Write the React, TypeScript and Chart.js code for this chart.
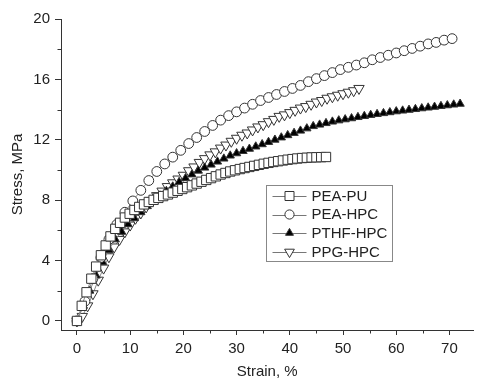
import React, { useEffect, useRef } from 'react';
import { Chart, registerables } from 'chart.js';

Chart.register(...registerables);

const seriesNames = ['PEA-PU', 'PEA-HPC', 'PTHF-HPC', 'PPG-HPC'];

const strainPEAPU = [0, 0.9, 1.8, 2.7, 3.6, 4.5, 5.4, 6.3, 7.2, 8.1, 9.0, 9.9, 10.8, 11.7, 12.6, 13.5, 14.4, 15.3, 16.2, 17.1, 18.0, 18.9, 19.8, 20.7, 21.6, 22.5, 23.4, 24.3, 25.2, 26.1, 27.0, 27.9, 28.8, 29.7, 30.6, 31.5, 32.4, 33.3, 34.2, 35.1, 36.0, 36.9, 37.8, 38.7, 39.6, 40.5, 41.4, 42.3, 43.2, 44.1, 45.0, 45.9, 46.8];
const stressPEAPU = [0, 1.0, 1.9, 2.8, 3.6, 4.35, 5.0, 5.6, 6.1, 6.5, 6.85, 7.1, 7.35, 7.55, 7.72, 7.88, 8.02, 8.15, 8.27, 8.38, 8.5, 8.62, 8.74, 8.86, 8.98, 9.1, 9.22, 9.34, 9.46, 9.58, 9.7, 9.8, 9.9, 9.98, 10.06, 10.13, 10.2, 10.27, 10.34, 10.41, 10.47, 10.53, 10.58, 10.63, 10.68, 10.72, 10.76, 10.79, 10.81, 10.83, 10.84, 10.85, 10.86];

const strainPEAHPC = [0, 1.5, 3, 4.5, 6, 7.5, 9, 10.5, 12, 13.5, 15, 16.5, 18, 19.5, 21, 22.5, 24, 25.5, 27, 28.5, 30, 31.5, 33, 34.5, 36, 37.5, 39, 40.5, 42, 43.5, 45, 46.5, 48, 49.5, 51, 52.5, 54, 55.5, 57, 58.5, 60, 61.5, 63, 64.5, 66, 67.5, 69, 70.5];
const stressPEAHPC = [0, 1.3, 2.8, 4.2, 5.4, 6.4, 7.2, 7.95, 8.65, 9.3, 9.9, 10.4, 10.85, 11.3, 11.75, 12.15, 12.55, 12.95, 13.3, 13.6, 13.85, 14.1, 14.35, 14.6, 14.8, 15.0, 15.2, 15.4, 15.6, 15.85, 16.05, 16.25, 16.45, 16.65, 16.8, 16.95, 17.1, 17.3, 17.45, 17.6, 17.75, 17.9, 18.05, 18.2, 18.35, 18.45, 18.6, 18.7];

const strainPTHFHPC = [0, 1.2, 2.4, 3.6, 4.8, 6.0, 7.2, 8.4, 9.6, 10.8, 12.0, 13.2, 14.4, 15.6, 16.8, 18.0, 19.2, 20.4, 21.6, 22.8, 24.0, 25.2, 26.4, 27.6, 28.8, 30.0, 31.2, 32.4, 33.6, 34.8, 36.0, 37.2, 38.4, 39.6, 40.8, 42.0, 43.2, 44.4, 45.6, 46.8, 48.0, 49.2, 50.4, 51.6, 52.8, 54.0, 55.2, 56.4, 57.6, 58.8, 60.0, 61.2, 62.4, 63.6, 64.8, 66.0, 67.2, 68.4, 69.6, 70.8, 72.0];
const stressPTHFHPC = [0, 1.0, 2.0, 3.0, 3.9, 4.7, 5.4, 5.9, 6.4, 6.8, 7.2, 7.6, 7.95, 8.3, 8.6, 8.9, 9.2, 9.45, 9.7, 9.95, 10.15, 10.35, 10.55, 10.75, 10.95, 11.1, 11.25, 11.4, 11.55, 11.7, 11.85, 12.0, 12.15, 12.3, 12.45, 12.6, 12.75, 12.9, 13.0, 13.1, 13.2, 13.28, 13.35, 13.42, 13.5, 13.57, 13.64, 13.7, 13.76, 13.82, 13.88, 13.93, 13.98, 14.03, 14.08, 14.13, 14.18, 14.23, 14.28, 14.33, 14.38];

const strainPPGHPC = [0, 1, 2, 3, 4, 5, 6, 7, 8, 9, 10, 11, 12, 13, 14, 15, 16, 17, 18, 19, 20, 21, 22, 23, 24, 25, 26, 27, 28, 29, 30, 31, 32, 33, 34, 35, 36, 37, 38, 39, 40, 41, 42, 43, 44, 45, 46, 47, 48, 49, 50, 51, 52, 53];
const stressPPGHPC = [0, 0.3, 1.0, 1.8, 2.7, 3.5, 4.25, 4.9, 5.4, 5.9, 6.35, 6.8, 7.15, 7.55, 7.95, 8.3, 8.6, 8.9, 9.15, 9.4, 9.65, 9.95, 10.2, 10.5, 10.75, 11.0, 11.2, 11.45, 11.65, 11.9, 12.1, 12.3, 12.45, 12.65, 12.85, 13.0, 13.2, 13.35, 13.55, 13.65, 13.8, 13.95, 14.1, 14.2, 14.35, 14.5, 14.6, 14.75, 14.85, 14.95, 15.05, 15.15, 15.25, 15.4];

const xMajorTicks = [0, 10, 20, 30, 40, 50, 60, 70];
const xMinorTicks = [5, 15, 25, 35, 45, 55, 65];
const yMajorTicks = [0, 4, 8, 12, 16, 20];
const yMinorTicks = [2, 6, 10, 14, 18];

const xTitle = 'Strain, %';
const yTitle = 'Stress, MPa';

const FONT = "'Liberation Sans', Arial, sans-serif";
const TEXT = '#222';
const AXIS = '#333';

type MarkerSpec = { style: string; radius: number; fill: string; rotation: number };

const markers: MarkerSpec[] = [
  { style: 'rect', radius: 6.6, fill: '#fff', rotation: 0 },
  { style: 'circle', radius: 4.9, fill: '#fff', rotation: 0 },
  { style: 'triangle', radius: 4.8, fill: '#000', rotation: 0 },
  { style: 'triangle', radius: 6.0, fill: '#fff', rotation: 180 },
];

function toPoints(xs: number[], ys: number[]) {
  return xs.map((x, i) => ({ x, y: ys[i] }));
}

function drawMarker(ctx: CanvasRenderingContext2D, m: MarkerSpec, x: number, y: number, r: number) {
  ctx.save();
  ctx.fillStyle = m.fill;
  ctx.strokeStyle = AXIS;
  ctx.lineWidth = 1;
  ctx.beginPath();
  if (m.style === 'rect') {
    const s = r;
    ctx.rect(x - s, y - s, 2 * s, 2 * s);
  } else if (m.style === 'circle') {
    ctx.arc(x, y, r, 0, Math.PI * 2);
  } else {
    let rad = (m.rotation * Math.PI) / 180;
    ctx.moveTo(x + Math.sin(rad) * r, y - Math.cos(rad) * r);
    rad += (2 * Math.PI) / 3;
    ctx.lineTo(x + Math.sin(rad) * r, y - Math.cos(rad) * r);
    rad += (2 * Math.PI) / 3;
    ctx.lineTo(x + Math.sin(rad) * r, y - Math.cos(rad) * r);
    ctx.closePath();
  }
  ctx.fill();
  ctx.stroke();
  ctx.restore();
}

const minorTicksPlugin = {
  id: 'minorTicks',
  afterDraw(chart: any) {
    const { ctx, scales, chartArea } = chart;
    ctx.save();
    ctx.strokeStyle = AXIS;
    ctx.lineWidth = 1;
    ctx.beginPath();
    xMinorTicks.forEach((v) => {
      const px = Math.round(scales.x.getPixelForValue(v)) + 0.5;
      ctx.moveTo(px, chartArea.bottom);
      ctx.lineTo(px, chartArea.bottom + 3.5);
    });
    yMinorTicks.forEach((v) => {
      const py = Math.round(scales.y.getPixelForValue(v)) + 0.5;
      ctx.moveTo(chartArea.left, py);
      ctx.lineTo(chartArea.left - 3.5, py);
    });
    ctx.stroke();
    ctx.restore();
  },
};

const legendPlugin = {
  id: 'boxLegend',
  afterDatasetsDraw(chart: any) {
    const { ctx, chartArea } = chart;
    const left = chartArea.left + 205.5;
    const top = chartArea.top + 166.5;
    const w = 126;
    const h = 76;
    ctx.save();
    ctx.fillStyle = '#fff';
    ctx.fillRect(left, top, w, h);
    ctx.strokeStyle = '#888';
    ctx.lineWidth = 1;
    ctx.strokeRect(left, top, w, h);
    const rowY = [10.5, 29, 47.5, 66.5];
    const legendSizes = [4.5, 4.6, 4.6, 5.6];
    seriesNames.forEach((name, i) => {
      const y = top + rowY[i];
      ctx.strokeStyle = '#777';
      ctx.lineWidth = 1;
      ctx.beginPath();
      ctx.moveTo(left + 6, Math.round(y) + 0.5);
      ctx.lineTo(left + 40, Math.round(y) + 0.5);
      ctx.stroke();
      drawMarker(ctx, markers[i], left + 23, y, legendSizes[i]);
      ctx.fillStyle = TEXT;
      ctx.font = `15px ${FONT}`;
      ctx.textBaseline = 'middle';
      ctx.textAlign = 'left';
      ctx.fillText(name, left + 45, y + 0.5);
    });
    ctx.restore();
  },
};

export default function App() {
  const ref = useRef<HTMLCanvasElement | null>(null);

  useEffect(() => {
    document.body.style.margin = '0';
    document.body.style.background = '#fff';
    const canvas = ref.current;
    if (!canvas) return;

    const allData = [
      toPoints(strainPEAPU, stressPEAPU),
      toPoints(strainPEAHPC, stressPEAHPC),
      toPoints(strainPTHFHPC, stressPTHFHPC),
      toPoints(strainPPGHPC, stressPPGHPC),
    ];

    const datasets = seriesNames.map((name, i) => ({
      label: name,
      data: allData[i],
      showLine: true,
      borderColor: '#888',
      borderWidth: 1,
      pointStyle: markers[i].style,
      pointRadius: markers[i].radius,
      pointRotation: markers[i].rotation,
      pointBorderColor: AXIS,
      pointBorderWidth: 1,
      pointBackgroundColor: markers[i].fill,
      clip: false as any,
    }));

    const chart = new Chart(canvas, {
      type: 'scatter',
      data: { datasets: datasets as any },
      options: {
        responsive: false,
        animation: false,
        events: [],
        layout: { padding: { top: 19, right: 0, left: 0, bottom: 0 } },
        plugins: {
          legend: { display: false },
          tooltip: { enabled: false },
        },
        scales: {
          x: {
            type: 'linear',
            min: -3,
            max: 74.5,
            afterBuildTicks: (scale: any) => {
              scale.ticks = xMajorTicks.map((v) => ({ value: v }));
            },
            afterFit: (scale: any) => {
              scale.height = 49;
            },
            grid: { display: true, drawOnChartArea: false, drawTicks: true, tickLength: 5, color: AXIS, lineWidth: 1 },
            border: { display: true, color: AXIS, width: 1 },
            ticks: {
              color: TEXT,
              font: { family: FONT, size: 15 },
              padding: 5,
              maxRotation: 0,
              autoSkip: false,
              callback: (v: any) => String(v),
            },
            title: {
              display: true,
              text: xTitle,
              color: TEXT,
              font: { family: FONT, size: 15, lineHeight: 1 },
              padding: { top: 0, bottom: 0 },
            },
          },
          y: {
            type: 'linear',
            min: -0.6,
            max: 20,
            afterBuildTicks: (scale: any) => {
              scale.ticks = yMajorTicks.map((v) => ({ value: v }));
            },
            afterFit: (scale: any) => {
              scale.width = 61;
            },
            grid: { display: true, drawOnChartArea: false, drawTicks: true, tickLength: 6, color: AXIS, lineWidth: 1 },
            border: { display: true, color: AXIS, width: 1 },
            ticks: {
              color: TEXT,
              font: { family: FONT, size: 15 },
              padding: 5,
              autoSkip: false,
              callback: (v: any) => String(v),
            },
            title: {
              display: true,
              text: yTitle,
              color: TEXT,
              font: { family: FONT, size: 15, lineHeight: 1 },
              padding: { top: 10, bottom: 0 },
            },
          },
        },
      },
      plugins: [minorTicksPlugin, legendPlugin],
    });

    return () => chart.destroy();
  }, []);

  return (
    <div style={{ width: 481, height: 379, background: '#fff' }}>
      <canvas ref={ref} width={481} height={379} style={{ display: 'block' }} />
    </div>
  );
}
